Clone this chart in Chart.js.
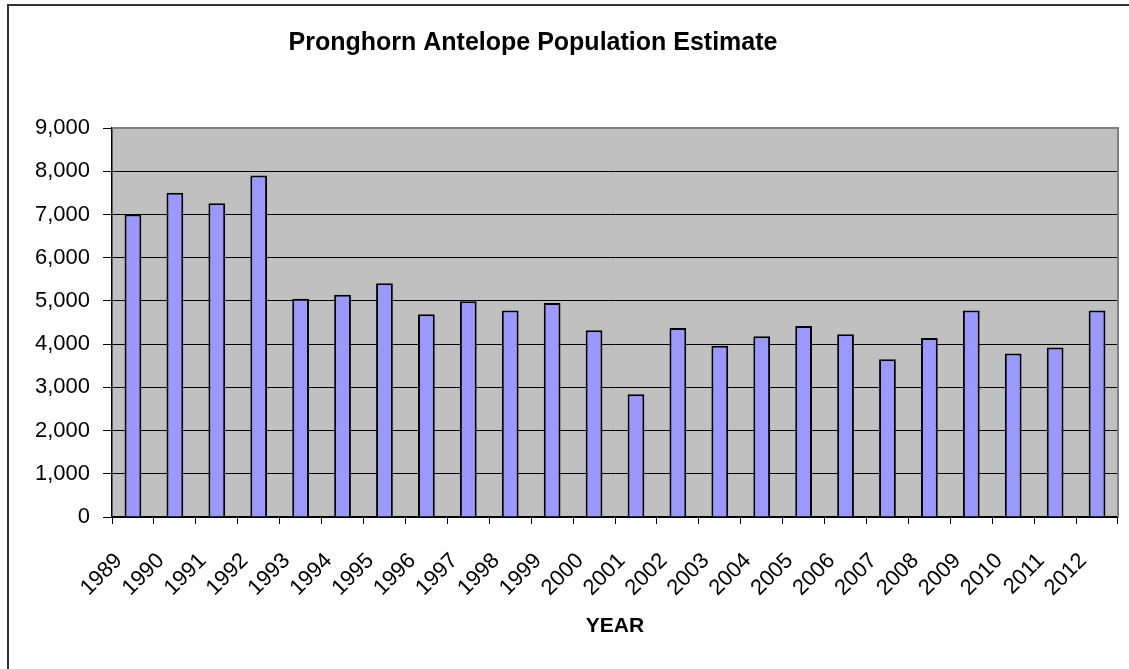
<!DOCTYPE html>
<html>
<head>
<meta charset="utf-8">
<title>Pronghorn Antelope Population Estimate</title>
<script src="https://cdn.jsdelivr.net/npm/chart.js@4.4.0/dist/chart.umd.min.js"></script>
<style>
  html, body { margin: 0; padding: 0; background: #fff; overflow: hidden; }
  #cadre {
    position: absolute; left: 7px; top: 4px; width: 1200px; height: 700px;
    border-left: 2px solid #333; border-top: 2px solid #333;
  }
  #graphique { position: absolute; left: 0; top: 0; }
</style>
</head>
<body>
<div id="cadre"></div>
<canvas id="graphique" width="1129" height="669"></canvas>
<script>
const annees = ['1989', '1990', '1991', '1992', '1993', '1994', '1995', '1996',
  '1997', '1998', '1999', '2000', '2001', '2002', '2003', '2004',
  '2005', '2006', '2007', '2008', '2009', '2010', '2011', '2012'];

const population = [7000, 7500, 7260, 7900, 5050, 5140, 5410, 4690,
  4990, 4780, 4950, 4320, 2840, 4370, 3960, 4180,
  4420, 4230, 3650, 4140, 4780, 3780, 3920, 4780];

const titre = 'Pronghorn Antelope Population Estimate';
const police = '"Liberation Sans", Arial, sans-serif';

// fond gris de la zone de tracé + bordure haut/droite
const fondZone = {
  id: 'fondZone',
  beforeDraw(chart) {
    const { ctx, chartArea: a } = chart;
    ctx.save();
    ctx.fillStyle = '#C0C0C0';
    ctx.fillRect(a.left, a.top, a.right - a.left, a.bottom - a.top);
    ctx.restore();
  },
  afterDraw(chart) {
    const { ctx, chartArea: a } = chart;
    ctx.save();
    ctx.strokeStyle = '#808080';
    ctx.lineWidth = 2;
    ctx.beginPath();
    ctx.moveTo(a.left, a.top);
    ctx.lineTo(a.right, a.top);
    ctx.lineTo(a.right, a.bottom);
    ctx.stroke();
    // titre principal
    ctx.fillStyle = '#000';
    ctx.font = 'bold 25px ' + police;
    ctx.textAlign = 'center';
    ctx.textBaseline = 'middle';
    ctx.fillText(titre, 533, 43);
    ctx.restore();
  }
};

new Chart(document.getElementById('graphique'), {
  type: 'bar',
  data: {
    labels: annees,
    datasets: [{
      label: 'Population',
      data: population,
      backgroundColor: '#9999FF',
      borderColor: '#000',
      borderWidth: 2,
      barPercentage: 0.4,
      categoryPercentage: 1
    }]
  },
  options: {
    responsive: false,
    animation: false,
    layout: { padding: { left: 0, right: 11, top: 128, bottom: 0 } },
    plugins: {
      legend: { display: false },
      tooltip: { enabled: false }
    },
    scales: {
      x: {
        afterFit: (s) => {
          s.height = 152;
          s.paddingLeft = 0;
          s.paddingRight = 0;
        },
        grid: {
          offset: true,
          drawOnChartArea: false,
          drawTicks: true,
          tickLength: 7,
          color: '#000'
        },
        border: { color: '#000', width: 1.5 },
        ticks: {
          color: '#000',
          font: { family: police, size: 22 },
          minRotation: 45,
          maxRotation: 45,
          autoSkip: false,
          padding: 24,
          labelOffset: -14
        },
        title: {
          display: true,
          text: 'YEAR',
          color: '#000',
          font: { family: police, size: 21, weight: 'bold' },
          padding: { top: 0, bottom: 30 }
        }
      },
      y: {
        min: 0,
        max: 9000,
        afterFit: (s) => {
          s.width = 112;
          s.paddingTop = 0;
          s.paddingBottom = 0;
        },
        grid: {
          color: '#000',
          lineWidth: 1,
          tickLength: 9
        },
        border: { color: '#000', width: 1.5 },
        ticks: {
          stepSize: 1000,
          color: '#000',
          padding: 13,
          font: { family: police, size: 22 },
          callback: (v) => v.toLocaleString('en-US')
        }
      }
    }
  },
  plugins: [fondZone]
});
</script>
</body>
</html>
